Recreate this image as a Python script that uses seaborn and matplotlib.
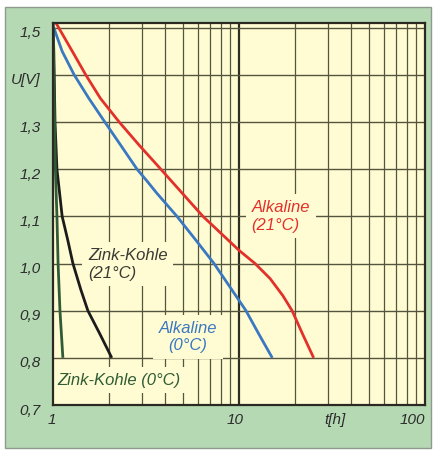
import matplotlib
matplotlib.use("Agg")
import matplotlib.pyplot as plt
import matplotlib.transforms as mtransforms
from matplotlib.patches import Rectangle
import seaborn as sns
import pandas as pd
import numpy as np

# ---- data ----
alk21_t = [1.02, 1.27, 1.5, 1.80, 2.27, 2.92, 3.8, 4.93, 6.4, 8.0, 10.0, 12.2, 14.7, 17.2, 19.3, 22.0, 25.2]
alk21_u = [1.515, 1.45, 1.40, 1.35, 1.30, 1.25, 1.20, 1.15, 1.10, 1.064, 1.028, 1.00, 0.968, 0.932, 0.90, 0.85, 0.80]

alk0_t = [1.01, 1.12, 1.30, 1.56, 1.90, 2.32, 2.83, 3.2, 3.6, 4.64, 5.85, 7.34, 9.8, 10.9, 12.8, 15.1]
alk0_u = [1.50, 1.45, 1.40, 1.35, 1.30, 1.25, 1.20, 1.175, 1.15, 1.10, 1.05, 1.00, 0.927, 0.90, 0.85, 0.80]

zk21_t = [1.0, 1.01, 1.025, 1.05, 1.12, 1.2, 1.28, 1.41, 1.54, 1.79, 2.07]
zk21_u = [1.51, 1.45, 1.30, 1.20, 1.10, 1.05, 1.00, 0.945, 0.90, 0.85, 0.80]

zk0_t = [1.0, 1.01, 1.02, 1.03, 1.05, 1.065, 1.09, 1.13]
zk0_u = [1.51, 1.40, 1.30, 1.20, 1.10, 1.00, 0.90, 0.80]

y_ticks = [0.7, 0.8, 0.9, 1.0, 1.1, 1.2, 1.3, 1.4, 1.5]
y_labels = ["0,7", "0,8", "0,9", "1,0", "1,1", "1,2", "1,3", "U[V]", "1,5"]
x_ticks = [1, 10, 30, 100]
x_labels = ["1", "10", "t[h]", "100"]

series_names = ["Alkaline (21°C)", "Alkaline (0°C)", "Zink-Kohle (21°C)", "Zink-Kohle (0°C)"]
colors = {"Alkaline (21°C)": "#e2312b", "Alkaline (0°C)": "#3b78c2",
          "Zink-Kohle (21°C)": "#1c1c1c", "Zink-Kohle (0°C)": "#2f5c35"}

frames = []
for name, t, u in zip(series_names, [alk21_t, alk0_t, zk21_t, zk0_t], [alk21_u, alk0_u, zk21_u, zk0_u]):
    frames.append(pd.DataFrame({"t": t, "U": u, "series": name}))
df = pd.concat(frames, ignore_index=True)

sns.set_style("white")
fam = ["Liberation Sans Narrow", "Liberation Sans", "DejaVu Sans"]
plt.rcParams["font.family"] = fam

fig = plt.figure(figsize=(4.40, 4.51), dpi=100)
fig.patch.set_facecolor("white")
bgrect = Rectangle((5/440, 1-448/451), 426/440, 441/451, transform=fig.transFigure,
                   facecolor="#b5d9b3", edgecolor="#8f9a8f", lw=1.0, zorder=-5)
fig.add_artist(bgrect)

ax = fig.add_axes([53/440, 1-405/451, 372/440, 382/451])
ax.set_zorder(2)
ax.set_facecolor("#fffcd3")

ax.set_xscale("log")
ax.set_xlim(1, 100)
ax.set_ylim(0.7, 1.51)

# grid
grid_c = "#55553e"
minor_x = [2, 3, 4, 5, 6, 7, 8, 9, 20, 30, 40, 50, 60, 70, 80, 90]
for xv in minor_x:
    ax.axvline(xv, color=grid_c, lw=0.9, zorder=1)
ax.axvline(10, color="#2e2e22", lw=1.6, zorder=1)
for yv in [0.8, 0.9, 1.0, 1.1, 1.2, 1.3, 1.4, 1.5]:
    ax.axhline(yv, color=grid_c, lw=1.0, zorder=1)

for name in series_names:
    sub = df[df.series == name]
    sns.lineplot(data=sub, x="t", y="U", sort=False, estimator=None, ax=ax,
                 color=colors[name], lw=2.0, zorder=5, legend=False)
for ln in ax.lines:
    ln.set_solid_joinstyle("round")
    ln.set_solid_capstyle("butt")

for sp in ax.spines.values():
    sp.set_color("#2a2a22")
    sp.set_linewidth(1.6)
    sp.set_zorder(6)

ax.set_xlabel("")
ax.set_ylabel("")
ax.set_yticks(y_ticks)
ax.set_yticklabels(y_labels)
ax.set_xticks(x_ticks)
ax.set_xticklabels(x_labels)
ax.xaxis.set_minor_locator(matplotlib.ticker.NullLocator())
ax.tick_params(axis="both", length=0, labelsize=11, colors="#2c2c2c")
ax.tick_params(axis="y", pad=9)
ax.tick_params(axis="x", pad=6)
for lab in ax.get_yticklabels() + ax.get_xticklabels():
    lab.set_fontstyle("italic")
for lab in ax.get_yticklabels():
    lab.set_transform(lab.get_transform() + mtransforms.ScaledTranslation(0, -4/100, fig.dpi_scale_trans))
xl = ax.get_xticklabels()
xl[0].set_transform(xl[0].get_transform() + mtransforms.ScaledTranslation(-1/100, 0, fig.dpi_scale_trans))
xl[1].set_transform(xl[1].get_transform() + mtransforms.ScaledTranslation(-4/100, 0, fig.dpi_scale_trans))
xl[2].set_transform(xl[2].get_transform() + mtransforms.ScaledTranslation(7/100, 0, fig.dpi_scale_trans))
xl[3].set_horizontalalignment("right")

bg = "#fffcd3"
box = dict(boxstyle="square,pad=0.35", facecolor=bg, edgecolor="none")
ax.text(11.7, 1.10, "Alkaline\n(21°C)", color=colors["Alkaline (21°C)"], fontsize=12,
        style="italic", ha="left", va="center", ma="left", linespacing=1.2, bbox=box, zorder=3)
ax.text(1.54, 0.998, "Zink-Kohle\n(21°C)", color="#3a3a35", fontsize=12,
        style="italic", ha="left", va="center", ma="left", linespacing=1.2, bbox=box, zorder=3)
ax.text(5.3, 0.844, "Alkaline\n(0°C)", color=colors["Alkaline (0°C)"], fontsize=12,
        style="italic", ha="center", va="center", ma="center", linespacing=1.2, bbox=box, zorder=3)
ax.text(1.06, 0.753, "Zink-Kohle (0°C)", color=colors["Zink-Kohle (0°C)"], fontsize=12,
        style="italic", ha="left", va="center", bbox=box, zorder=3)

fig.savefig("out.png", dpi=100, facecolor=fig.get_facecolor())
